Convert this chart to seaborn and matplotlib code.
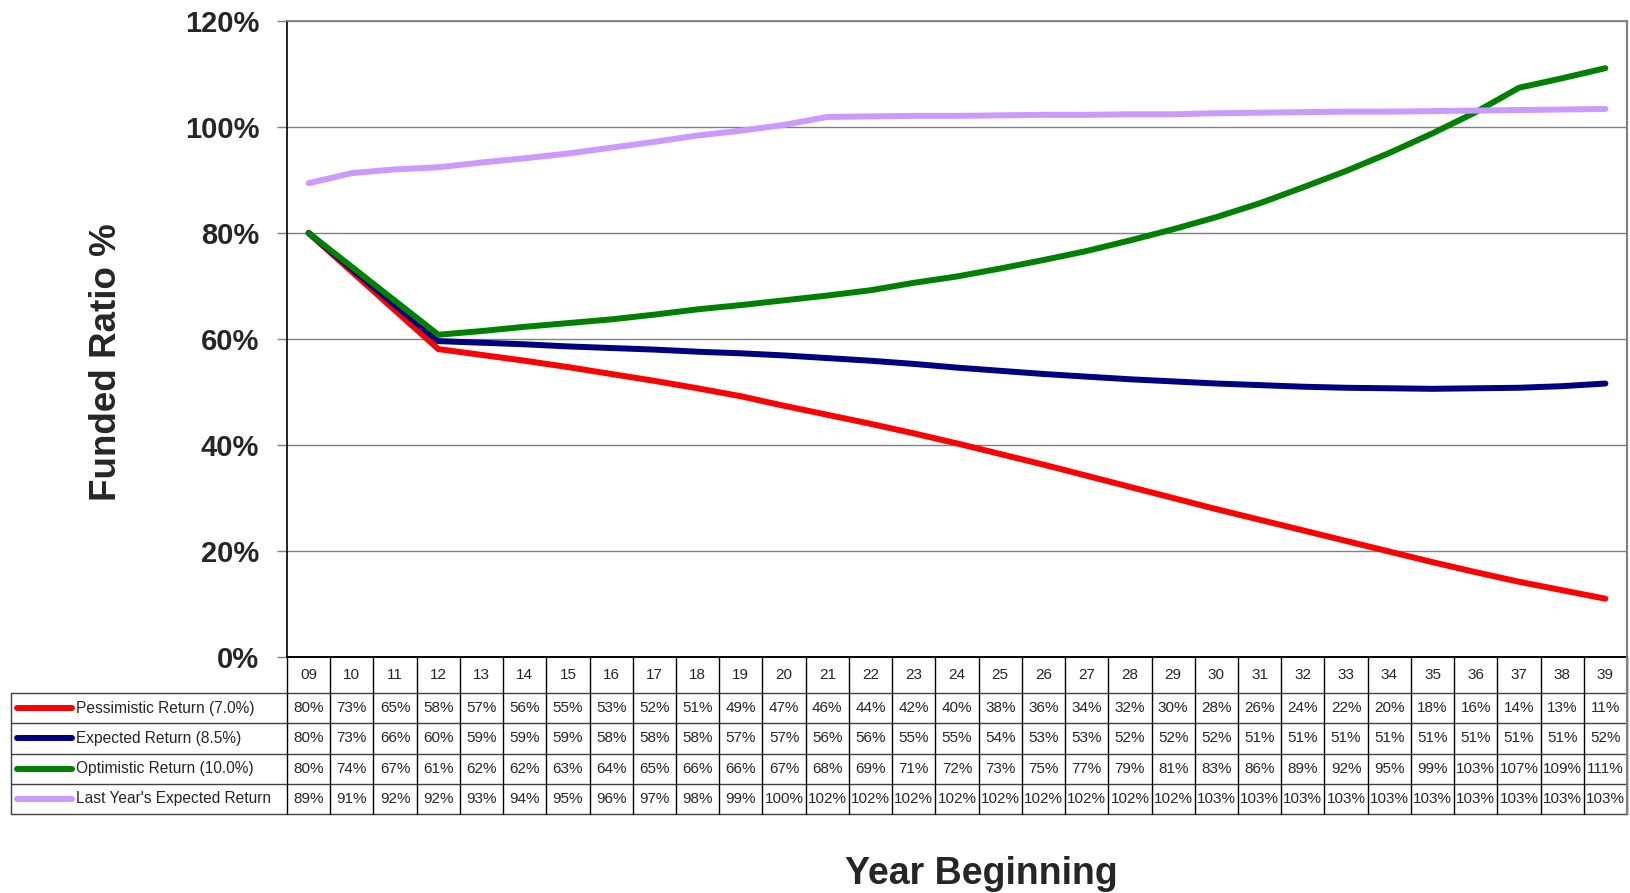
import pandas as pd
import seaborn as sns
import matplotlib
matplotlib.use('Agg')
import matplotlib.pyplot as plt

# Données du graphique (ratio de financement en %)
years = ['09', '10', '11', '12', '13', '14', '15', '16', '17', '18', '19', '20',
         '21', '22', '23', '24', '25', '26', '27', '28', '29', '30', '31', '32',
         '33', '34', '35', '36', '37', '38', '39']
series_names = ['Pessimistic Return (7.0%)', 'Expected Return (8.5%)',
                'Optimistic Return (10.0%)', "Last Year's Expected Return"]
pessimistic = [80.0, 72.7, 65.4, 58.1, 57.0, 55.9, 54.7, 53.4, 52.1, 50.7, 49.2,
               47.4, 45.7, 44.0, 42.2, 40.3, 38.3, 36.3, 34.2, 32.1, 30.0, 27.9,
               25.9, 23.9, 21.9, 19.9, 17.9, 16.0, 14.2, 12.6, 11.0]
expected = [80.0, 73.2, 66.4, 59.6, 59.3, 59.0, 58.6, 58.3, 58.0, 57.6, 57.3,
            56.9, 56.4, 55.9, 55.3, 54.6, 54.0, 53.4, 52.9, 52.4, 52.0, 51.6,
            51.3, 51.0, 50.8, 50.7, 50.6, 50.7, 50.8, 51.1, 51.6]
optimistic = [80.0, 73.6, 67.2, 60.8, 61.5, 62.3, 63.0, 63.7, 64.6, 65.6, 66.4,
              67.3, 68.2, 69.2, 70.6, 71.8, 73.3, 74.9, 76.6, 78.6, 80.7, 83.0,
              85.6, 88.6, 91.7, 95.1, 98.8, 102.8, 107.4, 109.2, 111.1]
last_year = [89.4, 91.3, 92.0, 92.4, 93.3, 94.1, 95.0, 96.1, 97.2, 98.4, 99.3,
             100.4, 101.9, 102.0, 102.1, 102.1, 102.2, 102.3, 102.3, 102.4, 102.4,
             102.6, 102.7, 102.8, 102.9, 102.9, 103.0, 103.1, 103.2, 103.3, 103.4]
colors = ['#FF0000', '#000080', '#008000', '#CC99FF']
y_ticks = [0, 20, 40, 60, 80, 100, 120]

all_values = [pessimistic, expected, optimistic, last_year]

# Format long pour seaborn
rows = []
for name, vals in zip(series_names, all_values):
    for i, v in enumerate(vals):
        rows.append({'idx': i, 'value': v, 'series': name})
df = pd.DataFrame(rows)

sns.set_theme(style='white')
plt.rcParams['font.family'] = ['Liberation Sans', 'DejaVu Sans']

W, H = 1630, 893
fig = plt.figure(figsize=(W / 100, H / 100), dpi=100)

# Zone du graphique
left, right, top, bottom = 287, 1627, 21, 657
ax = fig.add_axes([left / W, 1 - bottom / H, (right - left) / W, (bottom - top) / H])

ax.set_yticks(y_ticks)
for t in y_ticks[1:]:
    ax.axhline(t, color='#808080', lw=1.0, zorder=0)

sns.lineplot(data=df, x='idx', y='value', hue='series', palette=dict(zip(series_names, colors)),
             linewidth=4.3, ax=ax, legend=False, sort=False)
for line in ax.get_lines():
    line.set_solid_capstyle('round')
    line.set_solid_joinstyle('round')

n = len(years)
ax.set_xlim(-0.5, n - 0.5)
ax.set_ylim(0, 120)
ax.set_xticks([])
ax.set_yticklabels([f'{t}%' for t in y_ticks], fontsize=21, fontweight='bold')
ax.tick_params(axis='y', length=7, width=1, color='#808080', pad=13, left=True)
ax.set_xlabel('')
ax.set_ylabel('')
ax.spines['left'].set_color('black')
ax.spines['left'].set_linewidth(1.2)
ax.spines['bottom'].set_color('black')
ax.spines['bottom'].set_linewidth(1.2)
ax.spines['top'].set_color('#808080')
ax.spines['right'].set_color('#808080')
ax.spines['right'].set_linewidth(1.5)

# Tableau de données sous le graphique
tleft, tbottom = 11, 814
cell_w = (right - left) / n
label_w = (left - tleft) / cell_w
tax = fig.add_axes([tleft / W, 1 - tbottom / H, (right - tleft) / W, (tbottom - bottom) / H])
tax.set_xlim(-0.5 - label_w, n - 0.5)
tax.set_ylim(tbottom - bottom, 0)
tax.axis('off')

header_h = 36
row_h = (tbottom - bottom - header_h) / len(series_names)
row_edges = [0] + [header_h + k * row_h for k in range(len(series_names) + 1)]
xl = -0.5 - label_w

# lignes horizontales
tax.plot([-0.5, n - 0.5], [0, 0], color='black', lw=1.2, clip_on=False)
for y in row_edges[1:]:
    tax.plot([xl, n - 0.5], [y, y], color='#404040', lw=1.0, clip_on=False)
# lignes verticales
for i in range(n + 1):
    tax.plot([i - 0.5, i - 0.5], [0, row_edges[-1]], color='black', lw=1.0, clip_on=False)
tax.plot([xl, xl], [header_h, row_edges[-1]], color='#404040', lw=1.0, clip_on=False)
tax.plot([n - 0.5, n - 0.5], [0, row_edges[-1]], color='#808080', lw=1.5, clip_on=False)

for i, yr in enumerate(years):
    tax.text(i, header_h / 2, yr, ha='center', va='center', fontsize=11)

px = 1 / cell_w  # un pixel en unités de données
for r, (name, vals, c) in enumerate(zip(series_names, all_values, colors)):
    yc = (row_edges[r + 1] + row_edges[r + 2]) / 2
    tax.plot([xl + 6 * px, xl + 61 * px], [yc, yc], color=c, lw=4.3,
             solid_capstyle='round', clip_on=False)
    tax.text(xl + 65 * px, yc, name, ha='left', va='center', fontsize=11.2)
    for i, v in enumerate(vals):
        tax.text(i, yc, f'{v:.0f}%', ha='center', va='center', fontsize=11)

# Titres des axes
fig.text(981 / W, 1 - 874 / H, 'Year Beginning', ha='center', va='center',
         fontsize=27, fontweight='bold')
fig.text(106 / W, 1 - 362 / H, 'Funded Ratio %', ha='center', va='center',
         rotation=90, fontsize=26.5, fontweight='bold')

fig.savefig('out.png', dpi=100)
